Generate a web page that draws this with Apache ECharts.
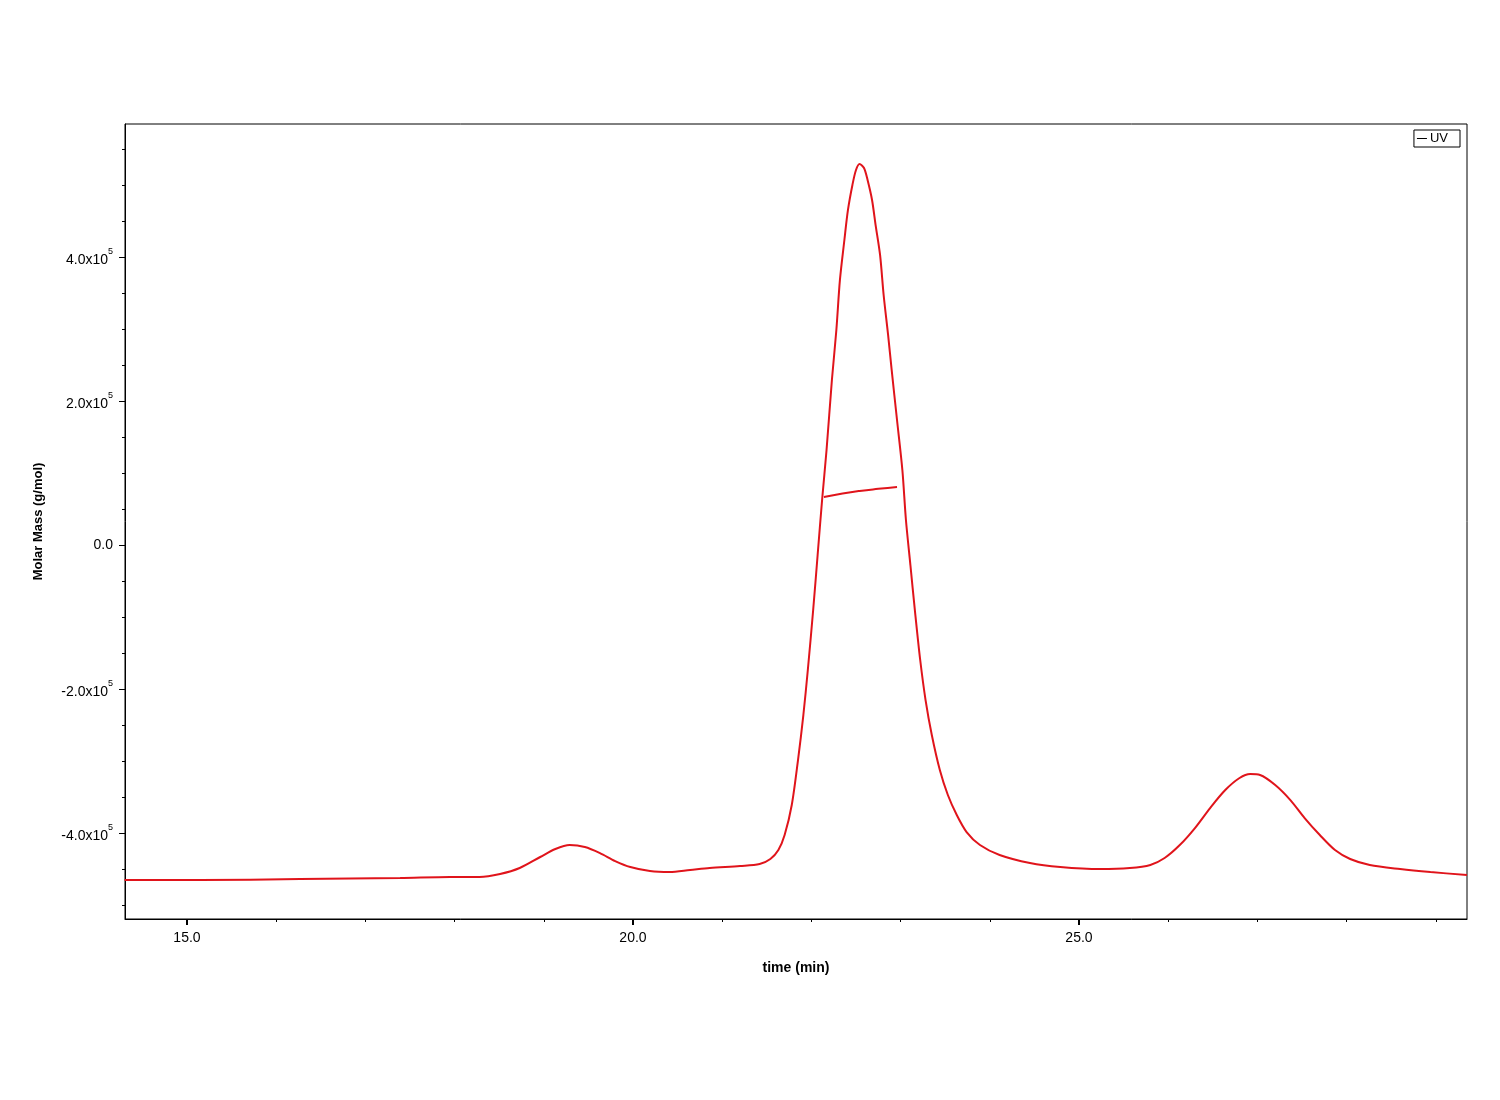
<!DOCTYPE html>
<html>
<head>
<meta charset="utf-8">
<script src="https://cdn.jsdelivr.net/npm/echarts@6/dist/echarts.min.js"></script>
<style>
html,body{margin:0;padding:0;background:#fff;}
#chart{width:1500px;height:1100px;}
</style>
</head>
<body>
<div id="chart"></div>
<script>
// UV trace (time in min, value in g/mol axis units)
const uvTime = [14.30,15.15,16.27,17.39,17.95,18.28,18.51,18.73,18.96,19.13,19.29,19.46,19.63,19.80,19.97,20.19,20.41,20.64,20.86,21.20,21.42,21.54,21.63,21.70,21.78,21.85,21.91,21.96,22.02,22.07,22.12,22.17,22.23,22.28,22.32,22.37,22.41,22.46,22.50,22.54,22.59,22.63,22.68,22.72,22.77,22.81,22.86,22.90,22.96,23.02,23.06,23.11,23.16,23.22,23.28,23.35,23.44,23.53,23.63,23.74,23.89,24.11,24.45,24.79,25.24,25.57,25.80,25.96,26.13,26.30,26.47,26.64,26.80,26.92,27.03,27.20,27.37,27.53,27.70,27.87,28.04,28.26,28.60,28.94,29.35];
const uvValue = [-465300,-465300,-463900,-462500,-461100,-461100,-456900,-448600,-433300,-422200,-416700,-419400,-427800,-438900,-447200,-452800,-454200,-451400,-448600,-445800,-443100,-436100,-423600,-402800,-361100,-298600,-236100,-173600,-90300,-13900,62500,131900,229200,298600,368100,423600,465300,500000,520800,529200,523600,506900,479200,444400,402800,347200,291700,243100,173600,104200,34700,-27800,-90300,-159700,-215300,-263900,-312500,-347200,-375000,-398600,-416700,-430600,-441700,-447200,-450000,-448600,-444400,-434700,-416700,-393100,-365300,-340300,-323600,-318100,-319400,-333300,-354200,-379200,-402800,-423600,-436100,-444400,-450000,-454200,-458300];
// Molar mass segment across main peak
const massTime = [22.14,22.35,22.54,22.75,22.96];
const massValue = [66700,71500,75000,78000,80600];

const xMajorTicks = [15,20,25];
const xMinorTicks = [16,17,18,19,21,22,23,24,26,27,28,29];
const yMajorTicks = [-400000,-200000,0,200000,400000];
const yMinorTicks = [-500000,-450000,-350000,-300000,-250000,-150000,-100000,-50000,50000,100000,150000,250000,300000,350000,450000,500000,550000];

const X_MIN = 14.305, X_MAX = 29.35, Y_MIN = -519400, Y_MAX = 584700;
const RED = '#e0141b';
const FONT = '"Liberation Sans", Arial, sans-serif';

function zip(a,b){return a.map((v,i)=>[v,b[i]]);}
function yFmt(v){
  if (Math.abs(v) < 1) return '{z|0.0}';
  return '{b|' + (v/1e5).toFixed(1) + 'x10}{s|5}';
}

const chart = echarts.init(document.getElementById('chart'), null, {renderer:'canvas'});
chart.setOption({
  animation:false,
  backgroundColor:'#fff',
  textStyle:{fontFamily:FONT},
  grid:{left:125,right:33,top:124,bottom:181,show:true,borderColor:'#000',borderWidth:1,backgroundColor:'transparent'},
  legend:{
    data:[{name:'UV',icon:'rect',itemStyle:{color:'#000'}}],
    right:40, top:130,
    itemWidth:10, itemHeight:1, itemGap:2,
    borderColor:'#000', borderWidth:1, padding:[2,12,2,3],
    textStyle:{fontFamily:FONT,fontSize:13,color:'#000',padding:[0,0,0,-2]}
  },
  xAxis:[{
    type:'value', min:X_MIN, max:X_MAX, position:'bottom',
    name:'time (min)', nameLocation:'middle', nameGap:42,
    nameTextStyle:{fontFamily:FONT,fontSize:14,fontWeight:'bold',color:'#000'},
    axisLine:{show:true,onZero:false,lineStyle:{color:'#000',width:1}},
    axisTick:{show:true,length:6,inside:false,customValues:xMajorTicks,lineStyle:{color:'#000',width:2}},
    axisLabel:{show:true,customValues:xMajorTicks,margin:12,fontFamily:FONT,fontSize:14,color:'#000',formatter:v=>v.toFixed(1)},
    splitLine:{show:false}
  },{
    type:'value', min:X_MIN, max:X_MAX, position:'bottom',
    axisLine:{show:false,onZero:false},
    axisTick:{show:true,length:3,inside:false,customValues:xMinorTicks,lineStyle:{color:'#000',width:1}},
    axisLabel:{show:false},
    splitLine:{show:false}
  }],
  yAxis:[{
    type:'value', min:Y_MIN, max:Y_MAX, position:'left',
    name:'Molar Mass (g/mol)', nameLocation:'middle', nameGap:80, nameRotate:90,
    nameTextStyle:{fontFamily:FONT,fontSize:13,fontWeight:'bold',color:'#000'},
    axisLine:{show:true,onZero:false,lineStyle:{color:'#000',width:1}},
    axisTick:{show:true,length:6,inside:false,customValues:yMajorTicks,lineStyle:{color:'#000',width:1}},
    axisLabel:{show:true,customValues:yMajorTicks,margin:12,formatter:yFmt,
      rich:{
        z:{fontFamily:FONT,fontSize:14,color:'#000'},
        b:{fontFamily:FONT,fontSize:14,color:'#000',lineHeight:20,verticalAlign:'bottom'},
        s:{fontFamily:FONT,fontSize:9,color:'#000',verticalAlign:'top'}
      }},
    splitLine:{show:false}
  },{
    type:'value', min:Y_MIN, max:Y_MAX, position:'left',
    axisLine:{show:false,onZero:false},
    axisTick:{show:true,length:3,inside:false,customValues:yMinorTicks,lineStyle:{color:'#000',width:1}},
    axisLabel:{show:false},
    splitLine:{show:false}
  }],
  series:[{
    name:'UV', type:'line', xAxisIndex:0, yAxisIndex:0,
    data:zip(uvTime,uvValue), showSymbol:false, smooth:0.3,
    lineStyle:{color:RED,width:2}, itemStyle:{color:RED}
  },{
    name:'Molar Mass', type:'line', xAxisIndex:0, yAxisIndex:0,
    data:zip(massTime,massValue), showSymbol:false, smooth:true,
    lineStyle:{color:RED,width:2}, itemStyle:{color:RED}
  }]
});
</script>
</body>
</html>
